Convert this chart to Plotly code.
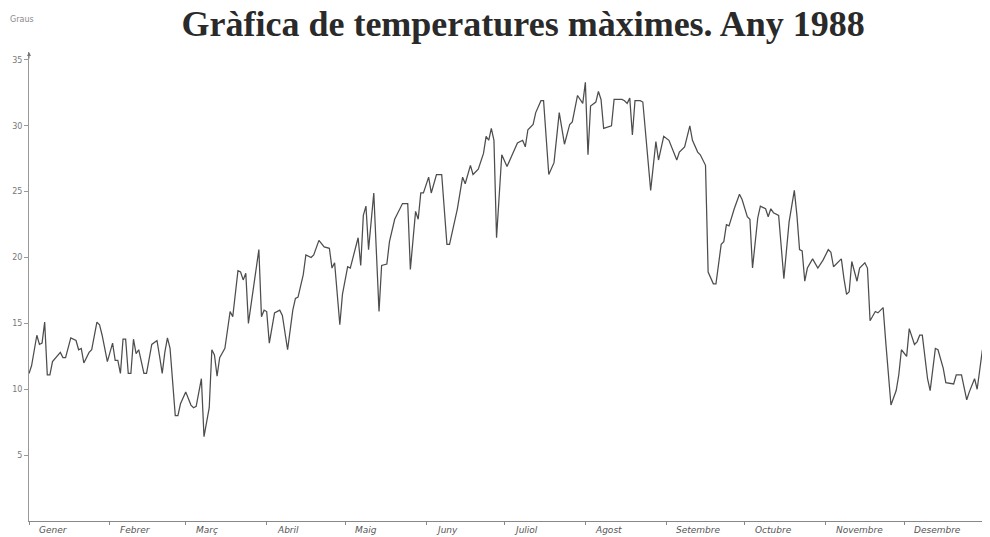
import plotly.graph_objects as go

# Day of year (0 = 1 Jan 1988) and daily maximum temperature (°C)
dies = [0, 1, 3, 4, 5, 6, 7, 8, 9, 12, 13, 14, 16, 18, 19, 20, 21, 23, 24, 26,
        27, 28, 30, 32, 33, 34, 35, 36, 37, 38, 39, 40, 41, 42, 44, 45, 47, 49, 50, 51,
        52, 53, 54, 56, 57, 58, 60, 62, 63, 64, 66, 67, 69, 70, 71, 72, 73, 75, 77, 78,
        80, 81, 82, 83, 84, 86, 88, 89, 90, 91, 92, 94, 96, 97, 99, 101, 102, 103, 105, 106,
        108, 109, 111, 113, 115, 116, 117, 119, 120, 122, 123, 126, 127, 128, 129, 130, 132, 134, 135, 137,
        138, 140, 142, 143, 145, 146, 148, 149, 150, 151, 153, 154, 156, 158, 160, 161, 164, 166, 167, 169,
        170, 172, 174, 175, 176, 177, 178, 179, 181, 183, 185, 187, 189, 190, 191, 193, 194, 196, 197, 199,
        201, 203, 205, 207, 208, 210, 212, 213, 214, 215, 217, 218, 219, 220, 223, 224, 227, 228, 229, 230,
        231, 232, 234, 235, 238, 240, 241, 243, 245, 248, 249, 251, 253, 254, 256, 257, 259, 260, 262, 263,
        265, 266, 267, 268, 270, 272, 273, 275, 276, 277, 279, 280, 282, 283, 284, 285, 287, 289, 291, 293,
        294, 295, 296, 297, 298, 300, 302, 304, 306, 307, 308, 311, 312, 313, 314, 315, 317, 318, 320, 321,
        322, 324, 325, 327, 328, 330, 332, 333, 334, 336, 337, 339, 340, 341, 342, 344, 345, 347, 348, 350,
        351, 354, 355, 357, 359, 360, 362, 363, 365]

tmax = [11.2, 11.8, 14.1, 13.4, 13.5, 15.1, 11.1, 11.1, 12.1, 12.8, 12.4, 12.4, 13.9, 13.7, 13.0, 13.1, 12.0, 12.8, 13.0, 15.1,
        14.9, 14.1, 12.1, 13.5, 12.2, 12.2, 11.2, 13.8, 13.8, 11.2, 11.2, 13.8, 12.7, 13.0, 11.2, 11.2, 13.4, 13.7, 12.5, 11.2,
        12.8, 13.9, 13.1, 8.0, 8.0, 8.9, 9.8, 8.8, 8.6, 8.7, 10.8, 6.4, 8.6, 13.0, 12.6, 11.0, 12.4, 13.1, 15.9, 15.5,
        19.0, 18.9, 18.3, 18.8, 15.0, 17.7, 20.6, 15.5, 16.0, 15.9, 13.5, 15.8, 16.0, 15.6, 13.0, 16.0, 16.9, 17.0, 18.7, 20.2,
        20.0, 20.2, 21.3, 20.8, 20.7, 19.2, 19.6, 14.9, 17.2, 19.3, 19.2, 21.5, 19.4, 23.2, 23.9, 20.6, 24.9, 15.9, 19.4, 19.5,
        21.2, 22.9, 23.7, 24.1, 24.1, 19.1, 23.5, 22.9, 24.9, 24.9, 26.1, 24.9, 26.3, 26.3, 21.0, 21.0, 23.7, 26.1, 25.6, 27.0,
        26.3, 26.7, 27.9, 29.2, 28.9, 29.8, 28.9, 21.5, 27.8, 26.9, 27.8, 28.7, 28.9, 28.4, 29.7, 30.1, 31.0, 31.9, 31.9, 26.3,
        27.2, 31.0, 28.6, 30.1, 30.3, 32.3, 31.7, 33.3, 27.8, 31.5, 31.8, 32.6, 32.0, 29.8, 30.0, 32.0, 32.0, 31.9, 31.7, 32.1,
        29.3, 31.9, 31.9, 31.8, 25.1, 28.8, 27.4, 29.2, 28.9, 27.4, 28.0, 28.4, 30.0, 28.9, 28.0, 27.8, 27.0, 18.9, 18.0, 18.0,
        21.0, 21.2, 22.5, 22.4, 23.7, 24.8, 24.4, 23.1, 22.9, 19.2, 23.0, 23.9, 23.7, 23.1, 23.7, 23.4, 23.2, 18.4, 22.7, 25.1,
        23.2, 20.6, 20.5, 18.2, 19.2, 19.9, 19.2, 19.8, 20.6, 20.4, 19.3, 19.9, 18.4, 17.2, 17.4, 19.7, 18.2, 19.2, 19.6, 19.2,
        15.2, 15.9, 15.8, 16.2, 13.6, 8.8, 9.9, 11.1, 13.0, 12.5, 14.6, 13.4, 13.6, 14.1, 14.1, 10.8, 9.9, 13.1, 13.0, 11.6,
        10.5, 10.4, 11.1, 11.1, 9.2, 9.8, 10.8, 10.0, 13.0]

mesos = ["Gener", "Febrer", "Març", "Abril", "Maig", "Juny", "Juliol", "Agost",
         "Setembre", "Octubre", "Novembre", "Desembre"]
inici_mes = [0, 31, 60, 91, 121, 152, 182, 213, 244, 274, 305, 335, 366]
graus_ticks = [5, 10, 15, 20, 25, 30, 35]

fig = go.Figure()
fig.add_trace(go.Scatter(
    x=dies, y=tmax, mode="lines",
    line=dict(color="#4d4d4d", width=1.25),
    showlegend=False, hoverinfo="skip",
))

for nom, d in zip(mesos, inici_mes[:-1]):
    fig.add_annotation(
        x=d + 3, xref="x", y=0, yref="paper", yanchor="top", xanchor="left",
        yshift=-2, text=nom, showarrow=False,
        font=dict(family="DejaVu Sans", size=9, color="#555555", style="italic"),
    )

fig.add_annotation(
    x=-0.022, xref="paper", y=1.07, yref="paper", xanchor="left", yanchor="middle",
    text="Graus", showarrow=False,
    font=dict(family="DejaVu Sans", size=8, color="#8a8a8a"),
)

# arrow head on top of the y axis
fig.add_annotation(
    x=0, xref="x", y=35.6, yref="y", ax=0, ay=8, axref="pixel", ayref="pixel",
    showarrow=True, arrowhead=2, arrowsize=0.8, arrowwidth=1, arrowcolor="#777777", text="",
)

# the page has an 8 px body margin, so the figure is sized to fit the 990x537 window
fig.update_layout(
    width=982, height=529,
    margin=dict(l=21, r=5, t=44, b=16),
    paper_bgcolor="white", plot_bgcolor="white",
    title=dict(
        text="<b>Gràfica de temperatures màximes. Any 1988</b>",
        x=0.5245, xanchor="center", y=1 - 3 / 529, yanchor="top",
        font=dict(family="Liberation Serif", size=36, color="#2a2a2a"),
    ),
)

fig.update_xaxes(
    range=[0, 366], showgrid=False, zeroline=False,
    showline=True, linecolor="#888888", linewidth=1,
    tickmode="array", tickvals=inici_mes, ticktext=[""] * len(inici_mes),
    ticks="outside", ticklen=3, tickcolor="#888888",
)
fig.update_yaxes(
    range=[0, 35.6], showgrid=False, zeroline=False,
    showline=True, linecolor="#999999", linewidth=1,
    tickmode="array", tickvals=graus_ticks, ticktext=[str(v) for v in graus_ticks],
    ticks="outside", ticklen=4, tickcolor="#999999",
    tickfont=dict(family="DejaVu Sans", size=8, color="#777777"),
)

fig.write_html("out.html")
